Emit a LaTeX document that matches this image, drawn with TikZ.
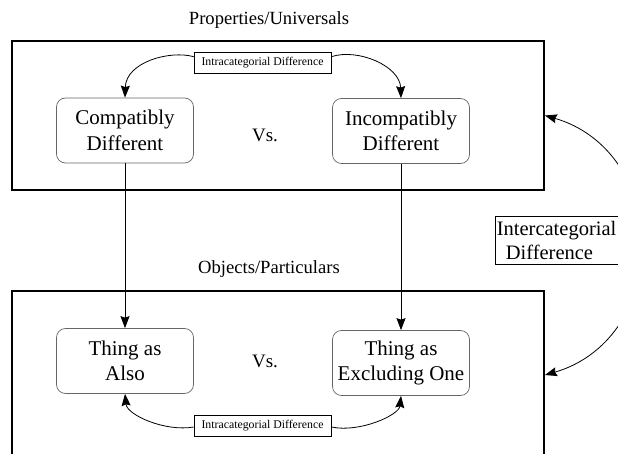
\documentclass[tikz,border=0pt]{standalone}
\usepackage{fontspec}
\setmainfont{Liberation Serif}
\usetikzlibrary{arrows.meta,calc}
\begin{document}
\begin{tikzpicture}[x=1pt,y=1pt,
  frame/.style={draw, line width=1.8pt, minimum width=532pt, inner sep=0pt},
  rbox/.style={draw=black!60, line width=0.7pt, rounded corners=9pt, minimum width=137pt, minimum height=65pt, align=center, inner sep=2pt, font=\fontsize{21}{25.5}\selectfont},
  title/.style={font=\fontsize{18.6}{22}\selectfont, inner sep=0pt},
  vs/.style={font=\fontsize{19}{22}\selectfont, inner sep=0pt, anchor=base},
  lbl/.style={draw, line width=0.6pt, fill=white, font=\fontsize{11.8}{14}\selectfont, minimum width=137pt, minimum height=21pt, inner sep=1pt},
  arr/.style={line width=0.8pt, -{Stealth[length=12pt,width=9pt,inset=1.5pt]}},
  ]
\useasboundingbox (0,0) rectangle (618,453);
% frames
\node[frame, minimum height=149pt] (topframe) at (278,337.5) {};
\node[frame, minimum height=168pt] (botframe) at (278,78) {};
% titles
\node[title] (t1) at (269,433) {Properties/Universals};
\node[title] (t2) at (269,184) {Objects/Particulars};
% boxes
\node[rbox] (comp) at (125,322.5) {Compatibly\\Different};
\node[rbox] (incomp) at (401,322) {Incompatibly\\Different};
\node[rbox] (also) at (125,92) {Thing as\\Also};
\node[rbox] (excl) at (401,90) {Thing as\\Excluding One};
% vs
\node[vs] (vs1) at (265,311) {Vs.};
\node[vs] (vs2) at (265,86) {Vs.};
% labels
\node[lbl] (lt) at (262.5,390.5) {Intracategorial Difference};
\node[lbl] (lb) at (262.5,27.5) {Intracategorial Difference};
\node[draw, line width=0.6pt, anchor=north west, text width=135pt, align=left, minimum height=48pt, inner xsep=1.5pt, inner ysep=2pt, font=\fontsize{20.5}{23.5}\selectfont] (inter) at (495,237) {Intercategorial\\\hspace*{9pt}Difference};
% intra arrows
\draw[arr] ($(lt.north west)+(0,-5)$) .. controls (170,403) and (126,391) .. (comp.north);
\draw[arr] ($(lt.north east)+(0,-5)$) .. controls (358,405) and (400,387) .. (incomp.north);
\draw[arr] ($(lb.west)+(0,-1.5)$) .. controls (165,21) and (127,38) .. (also.south);
\draw[arr] ($(lb.east)+(0,-1.5)$) .. controls (360,20) and (399,38) .. (excl.south);
% vertical arrows
\draw[arr] (comp.south) -- (also.north);
\draw[arr] (incomp.south) -- (incomp.south |- excl.north);
% intercategorial arcs
\coordinate (R) at (642,207.5);
\draw[arr] (R) to[out=90,in=-16] (topframe.east);
\draw[arr] (R) to[out=-90,in=16] (botframe.east);
\end{tikzpicture}
\end{document}
